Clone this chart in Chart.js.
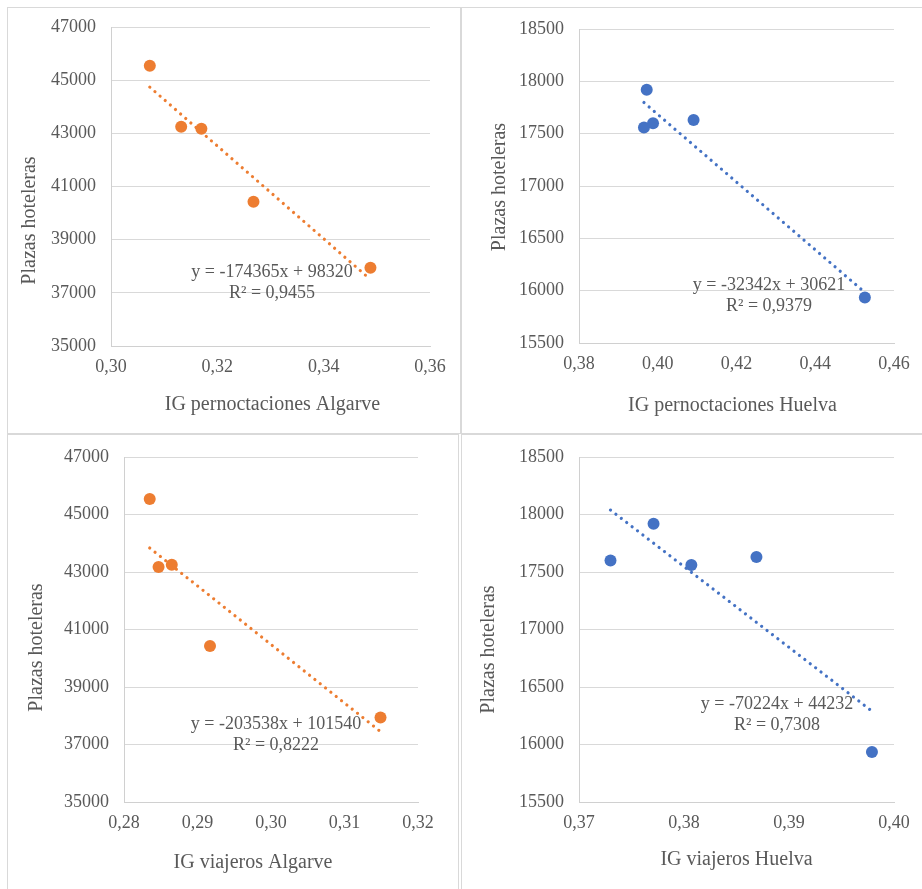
<!DOCTYPE html>
<html>
<head>
<meta charset="utf-8">
<script src="https://cdn.jsdelivr.net/npm/chart.js@4/dist/chart.umd.min.js"></script>
<style>
    body{ margin:0; background:#fff; }
    .panel{ position:absolute; border:1px solid #d9d9d9; }
    .panel canvas{ display:block; }
</style>
</head>
<body>
<div class="panel" style="left:7px;top:7px;width:452px;height:425px"><canvas id="c1" width="452" height="425"></canvas></div>
<div class="panel" style="left:461px;top:7px;width:460px;height:425px"><canvas id="c2" width="460" height="425"></canvas></div>
<div class="panel" style="left:7px;top:434px;width:450px;height:454px"><canvas id="c3" width="450" height="454"></canvas></div>
<div class="panel" style="left:461px;top:434px;width:460px;height:454px"><canvas id="c4" width="460" height="454"></canvas></div>
<script>
/* ==========================
   DATA
========================== */
// plazas hoteleras, same year order in every array
const plazasAlgarve = [45540, 43250, 43170, 40430, 37940];
const plazasHuelva = [17920, 17560, 17600, 17630, 15935];

const igPernoctAlgarve = [0.3073, 0.3132, 0.3170, 0.3268, 0.3488];
const igViajerosAlgarve = [0.2835, 0.2865, 0.2847, 0.2917, 0.3149];
const igPernoctHuelva = [0.3972, 0.3965, 0.3988, 0.4091, 0.4526];
const igViajerosHuelva = [0.3771, 0.3807, 0.3730, 0.3869, 0.3979];

// trend lines as printed: pernoct Algarve, pernoct Huelva, viajeros Algarve, viajeros Huelva
const trendSlopes = [-174365, -32342, -203538, -70224];
const trendIntercepts = [98320, 30621, 101540, 44232];
const trendR2 = ["0,9455", "0,9379", "0,8222", "0,7308"];

// axis ranges [min, max, step]
const yAxisAlgarve = [35000, 47000, 2000];
const yAxisHuelva = [15500, 18500, 500];
const xAxisPernoctAlgarve = [0.30, 0.36, 0.02];
const xAxisPernoctHuelva = [0.38, 0.46, 0.02];
const xAxisViajerosAlgarve = [0.28, 0.32, 0.01];
const xAxisViajerosHuelva = [0.37, 0.40, 0.01];

const xTitles = ["IG pernoctaciones Algarve", "IG pernoctaciones Huelva", "IG viajeros Algarve", "IG viajeros Huelva"];
const yTitle = "Plazas hoteleras";

const ORANGE = "#ED7D31";
const BLUE = "#4472C4";
const TEXT = "#595959";
const FONT = "'Liberation Serif', 'Times New Roman', serif";

/* ==========================
   TEXT PLUGIN (titles + trend label)
========================== */
const panelText = {
    id: "panelText",
    afterDatasetsDraw(chart, args, o){
        const {ctx, chartArea:a} = chart;
        ctx.save();
        ctx.fillStyle = TEXT;
        ctx.textAlign = "center";
        ctx.textBaseline = "middle";

        ctx.font = `18px ${FONT}`;
        ctx.fillText(o.eq, a.left + o.eqPos[0], a.top + o.eqPos[1]);
        ctx.fillText(o.r2, a.left + o.eqPos[0], a.top + o.eqPos[1] + 21);

        ctx.font = `20px ${FONT}`;
        ctx.fillText(o.xText, (a.left + a.right)/2 + o.xPos[0], a.bottom + o.xPos[1]);

        ctx.translate(a.left + o.yPos[0], (a.top + a.bottom)/2 + o.yPos[1]);
        ctx.rotate(-Math.PI/2);
        ctx.fillText(o.yText, 0, 0);
        ctx.restore();
    }
};

/* ==========================
   BUILD ONE PANEL
========================== */
function makePanel(id, p){
    const pts = p.xs.map((x,i)=>({x:x, y:p.ys[i]}));
    const x0 = Math.min(...p.xs), x1 = Math.max(...p.xs);
    const trend = [x0, x1].map(x=>({x:x, y:p.slope*x + p.intercept}));
    const sign = p.intercept < 0 ? "-" : "+";

    new Chart(document.getElementById(id), {
        type: "scatter",
        data: {
            datasets: [
                {
                    data: trend,
                    showLine: true,
                    borderColor: p.color,
                    borderWidth: 3.2,
                    borderDash: [0.01, 6.8],
                    borderCapStyle: "round",
                    pointRadius: 0
                },
                {
                    data: pts,
                    backgroundColor: p.color,
                    borderColor: p.color,
                    borderWidth: 0,
                    pointRadius: 6,
                    pointHoverRadius: 6
                }
            ]
        },
        options: {
            responsive: false,
            animation: false,
            devicePixelRatio: 1,
            layout: { padding: { top: p.pad[0], right: p.pad[1], left: 0, bottom: 0 } },
            plugins: {
                legend: { display: false },
                tooltip: { enabled: false },
                panelText: {
                    eq: `y = ${p.slope}x ${sign} ${Math.abs(p.intercept)}`,
                    r2: `R² = ${p.r2}`,
                    eqPos: p.eqPos,
                    xText: p.xTitle,
                    xPos: p.xTitlePos,
                    yText: yTitle,
                    yPos: p.yTitlePos
                }
            },
            scales: {
                x: {
                    type: "linear",
                    min: p.xAxis[0], max: p.xAxis[1],
                    grid: { display: false, drawTicks: false },
                    border: { display: true, color: "#d0d0d0" },
                    ticks: {
                        stepSize: p.xAxis[2],
                        padding: 10,
                        color: TEXT,
                        font: { family: FONT, size: 18 },
                        callback: v => v.toFixed(2).replace(".", ",")
                    },
                    afterFit: s => { s.height = p.xh; s.paddingLeft = 0; s.paddingRight = 0; }
                },
                y: {
                    min: p.yAxis[0], max: p.yAxis[1],
                    grid: { color: "#d9d9d9", drawTicks: false },
                    border: { display: true, color: "#d0d0d0" },
                    ticks: {
                        stepSize: p.yAxis[2],
                        padding: 15,
                        color: TEXT,
                        font: { family: FONT, size: 18 },
                        callback: v => String(v)
                    },
                    afterFit: s => { s.width = p.yw; s.paddingTop = 0; s.paddingBottom = 0; }
                }
            }
        },
        plugins: [panelText]
    });
}

/* ==========================
   PANELS
========================== */
makePanel("c1", {
    xs: igPernoctAlgarve, ys: plazasAlgarve, color: ORANGE,
    slope: trendSlopes[0], intercept: trendIntercepts[0], r2: trendR2[0],
    xAxis: xAxisPernoctAlgarve, yAxis: yAxisAlgarve, xTitle: xTitles[0],
    pad: [19, 30], yw: 103, xh: 87,
    eqPos: [161, 245], xTitlePos: [2, 59], yTitlePos: [-81, 34]
});

makePanel("c2", {
    xs: igPernoctHuelva, ys: plazasHuelva, color: BLUE,
    slope: trendSlopes[1], intercept: trendIntercepts[1], r2: trendR2[1],
    xAxis: xAxisPernoctHuelva, yAxis: yAxisHuelva, xTitle: xTitles[1],
    pad: [21, 28], yw: 117, xh: 90,
    eqPos: [190, 256], xTitlePos: [-4, 63], yTitlePos: [-79, 1]
});

makePanel("c3", {
    xs: igViajerosAlgarve, ys: plazasAlgarve, color: ORANGE,
    slope: trendSlopes[2], intercept: trendIntercepts[2], r2: trendR2[2],
    xAxis: xAxisViajerosAlgarve, yAxis: yAxisAlgarve, xTitle: xTitles[2],
    pad: [22, 40], yw: 116, xh: 87,
    eqPos: [152, 267], xTitlePos: [-18, 61], yTitlePos: [-87, 18]
});

makePanel("c4", {
    xs: igViajerosHuelva, ys: plazasHuelva, color: BLUE,
    slope: trendSlopes[3], intercept: trendIntercepts[3], r2: trendR2[3],
    xAxis: xAxisViajerosHuelva, yAxis: yAxisHuelva, xTitle: xTitles[3],
    pad: [22, 28], yw: 117, xh: 87,
    eqPos: [198, 247], xTitlePos: [0, 58], yTitlePos: [-90, 20]
});
</script>
</body>
</html>
